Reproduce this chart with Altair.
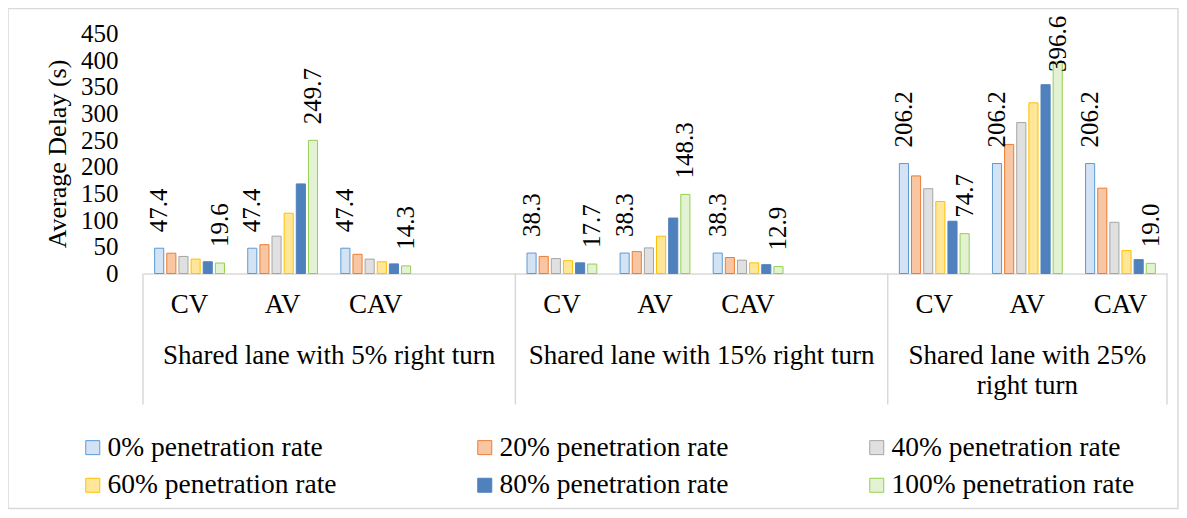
import altair as alt
import pandas as pd

FONT = "Liberation Serif, Times New Roman, serif"

groups = ["Shared lane with 5% right turn",
          "Shared lane with 15% right turn",
          "Shared lane with 25%\nright turn"]
vehicles = ["CV", "AV", "CAV"]
slots_per_group = [4, 4, 3]
rates = ["0% penetration rate", "20% penetration rate", "40% penetration rate",
         "60% penetration rate", "80% penetration rate", "100% penetration rate"]

g1_cv = [47.4, 38, 32, 27, 22, 19.6]
g1_av = [47.4, 54, 70, 113, 168, 249.7]
g1_cav = [47.4, 36, 27, 22, 18, 14.3]
g2_cv = [38.3, 32, 28, 24, 20, 17.7]
g2_av = [38.3, 41, 48, 70, 104, 148.3]
g2_cav = [38.3, 30, 25, 20, 16.5, 12.9]
g3_cv = [206.2, 183, 159, 135, 98, 74.7]
g3_av = [206.2, 242, 283, 320, 354, 396.6]
g3_cav = [206.2, 160, 96, 43, 26, 19.0]

series = [[g1_cv, g1_av, g1_cav], [g2_cv, g2_av, g2_cav], [g3_cv, g3_av, g3_cav]]

fill_colors = ["#d3e3f4", "#f8c6a2", "#e0e0e0", "#ffe699", "#4f81bd", "#e4f2d4"]
stroke_colors = ["#5b9bd5", "#ed7d31", "#a5a5a5", "#ffc000", "#4f81bd", "#92d050"]

slot_domain = []
for gi, n in enumerate(slots_per_group):
    for si in range(n):
        slot_domain.append(f"{gi+1}|{vehicles[si] if si < len(vehicles) else ''}")

rows = []
for gi, gvals in enumerate(series):
    for vi, vals in enumerate(gvals):
        for ri, v in enumerate(vals):
            rows.append({"slot": f"{gi+1}|{vehicles[vi]}", "rate": rates[ri], "value": v,
                         "labelled": ri in (0, len(rates) - 1)})
df = pd.DataFrame(rows)

n_slots = len(slot_domain)
bounds = [0]
for n in slots_per_group:
    bounds.append(bounds[-1] + n)
centers = [(bounds[i] + bounds[i + 1]) / 2 for i in range(len(groups))]

W, H = 1024, 240

legend = alt.Legend(title=None, orient="none", legendX=-64, legendY=400,
                    direction="horizontal", columns=3, columnPadding=134, rowPadding=9,
                    labelLimit=500, labelOffset=1, labelFont=FONT, labelFontSize=27.5,
                    labelColor="black",
                    symbolType="square", symbolSize=196,
                    symbolStrokeWidth=1)

x_scale = alt.Scale(domain=slot_domain, paddingInner=0.25, paddingOuter=0.125)
xoff_scale = alt.Scale(domain=rates, paddingInner=0.25, paddingOuter=0)
y_scale = alt.Scale(domain=[0, 450], nice=False)

x_axis = alt.Axis(title=None, labelExpr="split(datum.label, '|')[1]", labelAngle=0,
                  labelFont=FONT, labelColor="black",
                  labelFontSize=27, labelPadding=18, ticks=False, tickSize=0,
                  domainColor="#d9d9d9", domainWidth=1.5)
y_axis = alt.Axis(values=list(range(0, 451, 50)), title="Average Delay (s)",
                  labelFont=FONT, labelColor="black",
                  labelFontSize=25, labelPadding=25, labelOverlap=False,
                  ticks=False, tickSize=0, domain=False, grid=False,
                  titleFont=FONT, titleColor="black", titleFontWeight="normal",
                  titleFontSize=26, titlePadding=10)

bars = alt.Chart(df).mark_bar(strokeWidth=1).encode(
    x=alt.X("slot:N", scale=x_scale, axis=x_axis),
    xOffset=alt.XOffset("rate:N", scale=xoff_scale),
    y=alt.Y("value:Q", scale=y_scale, axis=y_axis),
    fill=alt.Fill("rate:N", scale=alt.Scale(domain=rates, range=fill_colors), legend=legend),
    stroke=alt.Stroke("rate:N", scale=alt.Scale(domain=rates, range=stroke_colors), legend=legend),
)

labels = alt.Chart(df).transform_filter("datum.labelled").transform_calculate(
    pos="min(datum.value, 348)"
).mark_text(angle=270, align="left", baseline="middle", dx=16,
            font=FONT, fontSize=25, color="black").encode(
    x=alt.X("slot:N", scale=x_scale, axis=x_axis),
    xOffset=alt.XOffset("rate:N", scale=xoff_scale),
    y=alt.Y("pos:Q", scale=y_scale, axis=y_axis),
    text=alt.Text("value:Q", format=".1f"),
)

main = alt.layer(bars, labels)

qscale = alt.Scale(domain=[0, n_slots], nice=False, zero=False)

seps = alt.Chart(pd.DataFrame({"b": bounds})).mark_rule(color="#d9d9d9", strokeWidth=1.5).encode(
    x=alt.X("b:Q", scale=qscale, axis=None),
    y=alt.value(H), y2=alt.value(H + 131),
)

grp_labels = alt.Chart(pd.DataFrame({"c": centers, "g": groups})).mark_text(
    font=FONT, fontSize=27, lineBreak="\n", lineHeight=30, baseline="top", align="center",
    color="black").encode(
    x=alt.X("c:Q", scale=qscale, axis=None),
    y=alt.value(H + 69.5),
    text="g:N",
)

border = alt.Chart(pd.DataFrame({"k": [0]})).mark_rect(
    fill="transparent", stroke="#d9d9d9", strokeWidth=1.5).encode(
    x=alt.value(-135), x2=alt.value(W + 11), y=alt.value(-25), y2=alt.value(H + 235),
)

chart = alt.layer(border, main, seps, grp_labels).resolve_scale(
    x="independent"
).properties(
    width=W, height=H,
    autosize=alt.AutoSizeParams(type="none"),
    padding={"left": 135, "top": 25.5, "right": 12, "bottom": 236.5},
).configure_view(stroke=None)

chart.save("out.html", embed_options={"renderer": "svg", "actions": False})
